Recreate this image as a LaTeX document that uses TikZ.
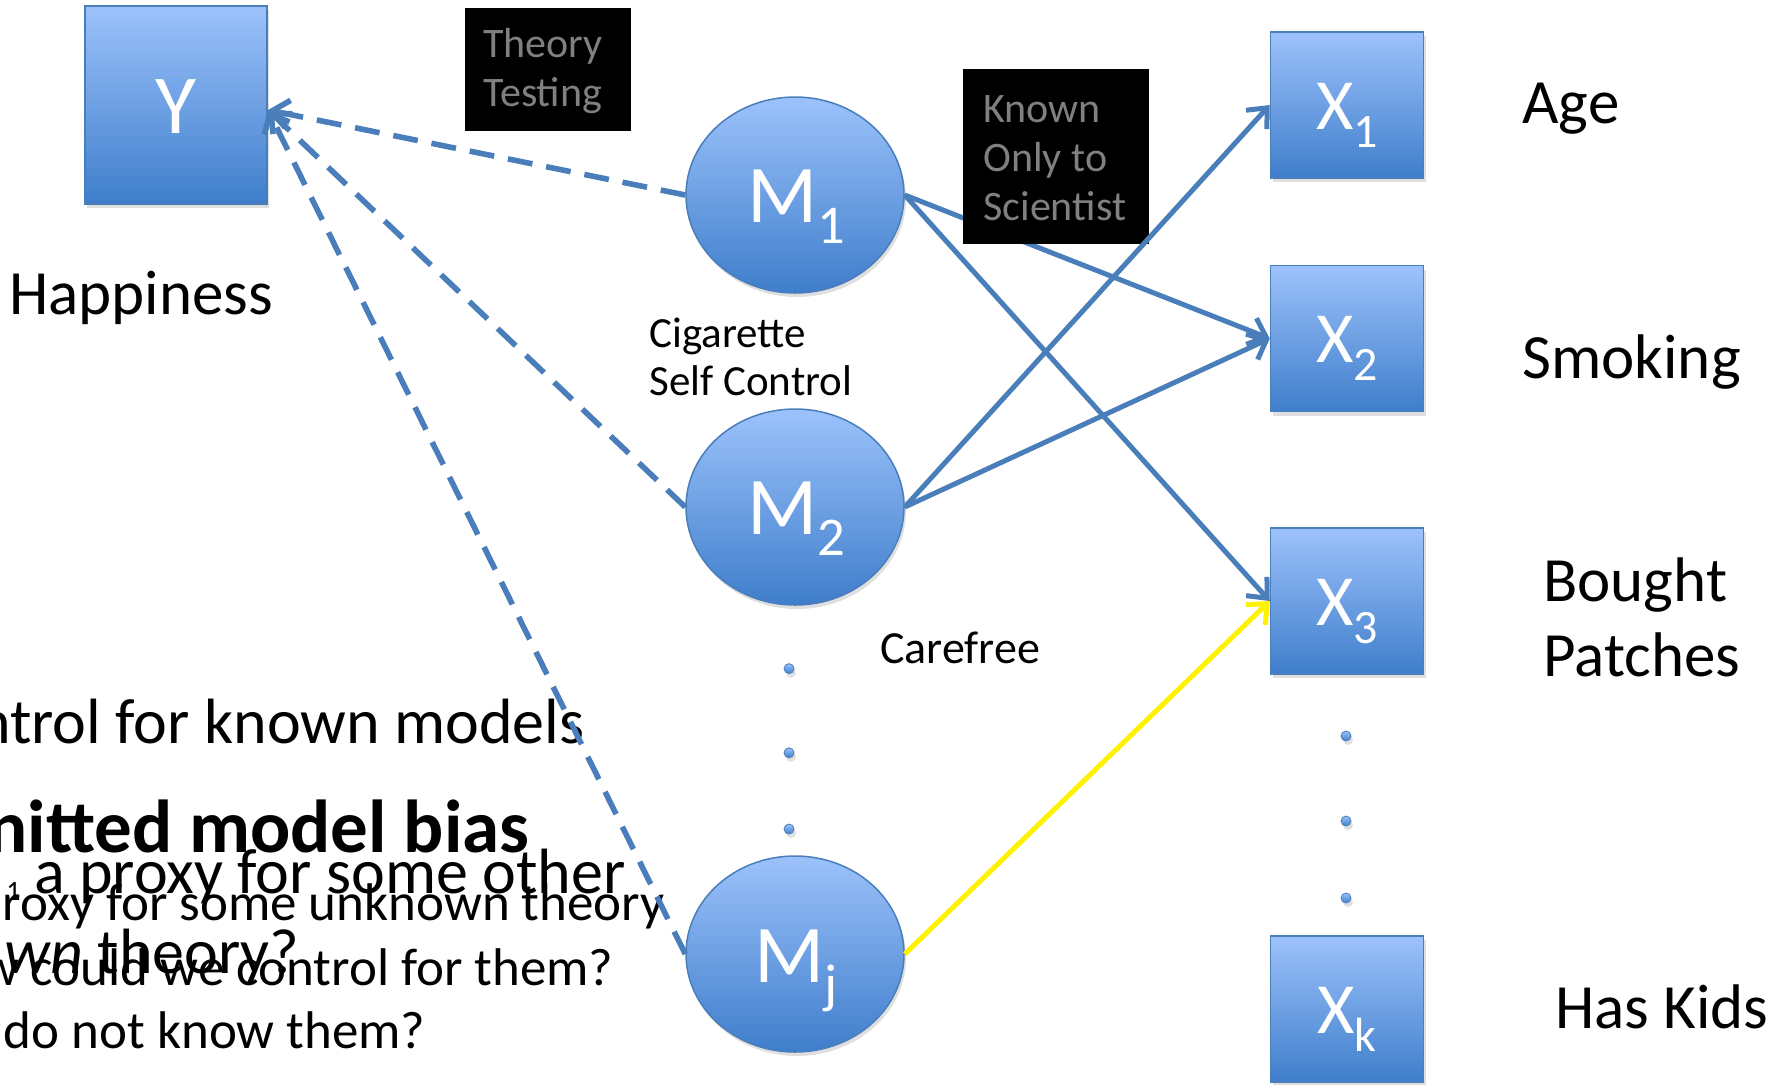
\documentclass[tikz,border=0pt]{standalone}
\usepackage{fontspec}
\setmainfont{Carlito}
\usetikzlibrary{arrows.meta,shadows,shapes.geometric}

\definecolor{edgeblue}{HTML}{4A7EBB}
\definecolor{filltop}{HTML}{9CC2FB}
\definecolor{fillbot}{HTML}{3F7ECB}
\definecolor{boxtext}{HTML}{808080}

\newcommand\fsz[1]{\fontsize{#1}{#1}\selectfont}

\begin{document}
\begin{tikzpicture}[x=0.5pt,y=-0.5pt,
  shade3d/.style={draw=edgeblue, line width=0.75pt, top color=filltop, bottom color=fillbot,
    drop shadow={shadow xshift=1pt, shadow yshift=-2pt, opacity=0.25}},
  varbox/.style={shade3d, rectangle, inner sep=0pt},
  varell/.style={shade3d, ellipse, inner sep=0pt, minimum width=109pt, minimum height=98pt},
  xbox/.style={varbox, minimum width=76.5pt, minimum height=73pt},
  dotmark/.style={shade3d, circle, inner sep=0pt, minimum size=5pt, line width=0.4pt},
  inlabel/.style={anchor=base, text=white, inner sep=0pt},
  plain/.style={inner sep=0pt, text=black},
  blackbox/.style={fill=black, rectangle, inner sep=0pt},
  boxtxt/.style={inner sep=0pt, text=boxtext, align=left, anchor=base west,
    font=\fontsize{21}{24.5}\selectfont},
  link/.style={draw=edgeblue, line width=2.5pt, -{Straight Barb[length=8pt,width=14pt]}},
  dlink/.style={link, line width=2.8pt, dash pattern=on 12.5pt off 7pt},
  ylink/.style={link, draw=yellow}
]
\useasboundingbox (0,0) rectangle (1781,1084);

% ---- leftover bullet text (left edge) ----
\node[plain, anchor=base east, font=\fsz{32}] (t1) at (585,743) {ntrol for known models};
\node[plain, anchor=base east, font=\bfseries\fsz{37.5}] (t2) at (530,852) {nitted model bias};
\node[plain, anchor=base west, font=\fsz{14}] (t3a) at (6,900) {1};
\node[plain, anchor=base east, font=\fsz{32}] (t3) at (626,893) {a proxy for some other};
\node[plain, anchor=base east, font=\fsz{26.5}] (t4) at (665,920) {roxy for some unknown theory};
\node[plain, anchor=base east, font=\fsz{32}] (t5) at (300,973) {\textit{wn} theory?};
\node[plain, anchor=base east, font=\fsz{26.5}] (t6) at (614,985) {w could we control for them?};
\node[plain, anchor=base east, font=\fsz{26.5}] (t7) at (426,1048) {do not know them?};

% ---- outcome ----
\node[varbox, minimum width=91pt, minimum height=99pt] (Y) at (176,105) {};
\node[inlabel, font=\fsz{42}] (Yl) at (176,133.3) {Y};
\node[plain, anchor=base west, font=\fsz{31.5}] (happy) at (9,314) {Happiness};

\node[blackbox, minimum width=83pt, minimum height=61.5pt] (theory) at (548,69.5) {};
\node[boxtxt] (theorytxt) at (483,106.7) {Theory\\Testing};

% ---- mechanisms ----
\node[varell] (M1) at (795,195) {};
\node[varell] (M2) at (795,507) {};
\node[varell] (Mj) at (795,954) {};
\node[inlabel, font=\fsz{41}] (M1l) at (796,222.7) {M\raisebox{-10.25pt}{\fsz{27.3}1}};
\node[inlabel, font=\fsz{41}] (M2l) at (796,534.7) {M\raisebox{-10.25pt}{\fsz{27.3}2}};
\node[inlabel, font=\fsz{41}] (Mjl) at (796,982) {M\raisebox{-10.25pt}{\fsz{27.3}j}};
\node[dotmark] (dm1) at (789,668.6) {};
\node[dotmark] (dm2) at (789,752.8) {};
\node[dotmark] (dm3) at (789,829) {};

\node[plain, anchor=base west, align=left, font=\fontsize{21.5}{24}\selectfont] (cig) at (649,395) {Cigarette\\Self Control};
\node[plain, anchor=base west, font=\fsz{23}] (care) at (880,663) {Carefree};

% ---- observed variables ----
\node[xbox] (X1) at (1347,105) {};
\node[xbox] (X2) at (1347,338.5) {};
\node[xbox] (X3) at (1347,601) {};
\node[xbox] (Xk) at (1347,1009) {};
\node[inlabel, font=\fsz{36}] (X1l) at (1347,129.3) {X\raisebox{-9pt}{\fsz{24}1}};
\node[inlabel, font=\fsz{36}] (X2l) at (1347,362.8) {X\raisebox{-9pt}{\fsz{24}2}};
\node[inlabel, font=\fsz{36}] (X3l) at (1347,625) {X\raisebox{-9pt}{\fsz{24}3}};
\node[inlabel, font=\fsz{36}] (Xkl) at (1347,1033.6) {X\raisebox{-9pt}{\fsz{24}k}};
\node[dotmark] (dx1) at (1346,736) {};
\node[dotmark] (dx2) at (1346,821) {};
\node[dotmark] (dx3) at (1346,898) {};

\node[plain, anchor=base west, font=\fsz{31.5}] (age) at (1522,123.3) {Age};
\node[plain, anchor=base west, font=\fsz{31.5}] (smoke) at (1522,378.3) {Smoking};
\node[plain, anchor=base west, align=left, font=\fontsize{31.5}{37.5}\selectfont] (patch) at (1543,676) {Bought\\Patches};
\node[plain, anchor=base west, font=\fsz{31.5}] (kids) at (1555,1028) {Has Kids};

% ---- connectors ----
\coordinate (Ytip) at (268,110);
\draw[link] (M1.east) -- (X2.west);

\node[blackbox, minimum width=93pt, minimum height=87.5pt] (known) at (1056,156.5) {};
\node[boxtxt] (knowntxt) at (983,220) {Known\\Only to\\Scientist};

\draw[link] (M1.east) -- (X3.west);
\draw[link] (M2.east) -- (X1.west);
\draw[link] (M2.east) -- (X2.west);
\draw[ylink] (Mj.east) -- (X3.west);

\draw[dlink] (M1.west) -- (Ytip);
\draw[dlink] (M2.west) -- (Ytip);
\draw[dlink] (Mj.west) -- (Ytip);
\end{tikzpicture}
\end{document}
